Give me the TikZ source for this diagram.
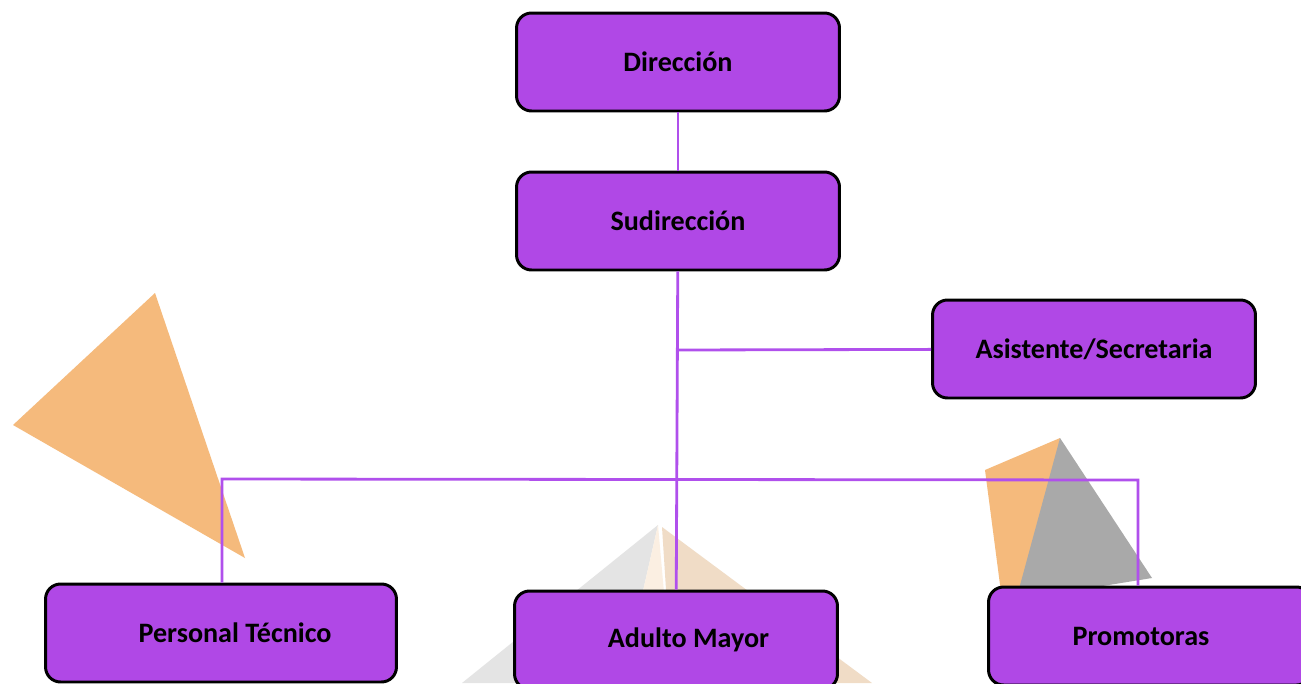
\documentclass[tikz,border=0pt]{standalone}
\usepackage{fontspec}
\setmainfont{Carlito}
\usetikzlibrary{positioning}
\definecolor{boxpurple}{HTML}{B048E6}
\definecolor{linkpurple}{HTML}{B050EC}
\definecolor{triorange}{HTML}{F5BA7C}
\definecolor{trigray}{HTML}{A9A9A9}
\definecolor{pyrgray}{HTML}{E4E4E4}
\definecolor{pyrcream}{HTML}{FBEFE2}
\definecolor{pyrtan}{HTML}{F0DCC6}
\tikzset{
  orgbox/.style={draw=black,line width=1.7pt,fill=boxpurple,rounded corners=0.3cm,
    minimum width=6.46cm,minimum height=1.96cm,font=\fontsize{16}{19}\selectfont\bfseries},
  link/.style={draw=linkpurple,line width=1.6pt}
}
\begin{document}
\begin{tikzpicture}[x=0.02cm,y=-0.02cm]
\clip (0,0) rectangle (1301,683);
\fill[white] (0,0) rectangle (1301,683);
\fill[triorange] (155,293) -- (13,425) -- (245,558) -- cycle;
\fill[triorange] (985,470) -- (1060,438) -- (1040,600) -- (1002,600) -- cycle;
\fill[trigray] (1060,438) -- (1152,578) -- (1016,600) -- cycle;
\fill[pyrgray] (658,525) -- (462,683) -- (622,683) -- cycle;
\fill[pyrcream] (658,525) -- (622,683) -- (672,683) -- cycle;
\fill[pyrtan] (662,527) -- (672,683) -- (872,683) -- cycle;

\node[orgbox] (dir) at (678,62) {Dirección};
\node[orgbox] (subdir) at (678,221) {Sudirección};
\node[orgbox] (asist) at (1094,349) {Asistente/Secretaria};
\node[orgbox,minimum width=7.02cm] (tecnico) at (221,633) {\hspace*{0.56cm}Personal Técnico};
\node[orgbox] (adulto) at (676,640) {\hspace*{0.5cm}Adulto Mayor};
\node[orgbox] (promo) at (1150,636) {\raisebox{-0.08cm}{Promotoras}\hspace*{0.36cm}};

\coordinate (asistj) at (678,350);
\coordinate (busl) at (222,479);
\coordinate (busr) at (1138,480);
\draw[link] (dir) -- (subdir);
\draw[link] (subdir) -- (adulto);
\draw[link] (asistj) -- (asist);
\draw[link] (tecnico.north -| busl) -- (busl) -- (busr) -- (promo.north -| busr);
\end{tikzpicture}
\end{document}
